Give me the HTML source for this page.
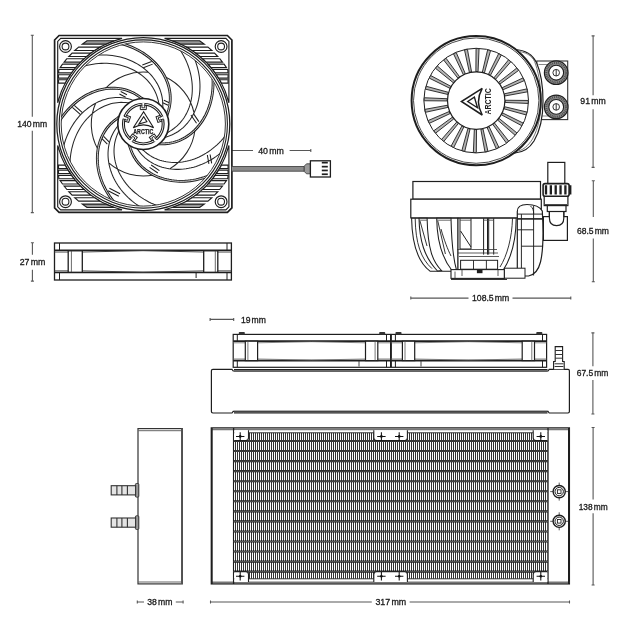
<!DOCTYPE html>
<html><head><meta charset="utf-8"><style>
html,body{margin:0;padding:0;background:#fff;width:624px;height:624px;overflow:hidden}
svg{display:block;filter:grayscale(1)}
</style></head><body>
<svg width="624" height="624" viewBox="0 0 624 624">
<g font-family="Liberation Sans, sans-serif" fill="#1a1a1a" stroke="#1a1a1a" stroke-width="0.3">
<text x="17.3" y="126.7" font-size="9" textLength="29.8" lengthAdjust="spacingAndGlyphs">140<tspan dx="1.2">mm</tspan></text>
<text x="19.7" y="264.9" font-size="9" textLength="25.6" lengthAdjust="spacingAndGlyphs">27<tspan dx="1.2">mm</tspan></text>
<text x="258.2" y="153.7" font-size="9" textLength="25.6" lengthAdjust="spacingAndGlyphs">40<tspan dx="1.2">mm</tspan></text>
<text x="580.3" y="104.4" font-size="9" textLength="25.4" lengthAdjust="spacingAndGlyphs">91<tspan dx="1.2">mm</tspan></text>
<text x="576.9" y="234" font-size="9" textLength="32.1" lengthAdjust="spacingAndGlyphs">68.5<tspan dx="1.2">mm</tspan></text>
<text x="472" y="301.2" font-size="9" textLength="37.3" lengthAdjust="spacingAndGlyphs">108.5<tspan dx="1.2">mm</tspan></text>
<text x="240.9" y="322.5" font-size="9" textLength="25" lengthAdjust="spacingAndGlyphs">19<tspan dx="1.2">mm</tspan></text>
<text x="576.7" y="376.4" font-size="9" textLength="31.7" lengthAdjust="spacingAndGlyphs">67.5<tspan dx="1.2">mm</tspan></text>
<text x="578.7" y="509.6" font-size="9" textLength="29" lengthAdjust="spacingAndGlyphs">138<tspan dx="1.2">mm</tspan></text>
<text x="147.3" y="604.8" font-size="9" textLength="25.2" lengthAdjust="spacingAndGlyphs">38<tspan dx="1.2">mm</tspan></text>
<text x="375.4" y="605.4" font-size="9" textLength="30.8" lengthAdjust="spacingAndGlyphs">317<tspan dx="1.2">mm</tspan></text>
</g>
<path d="M32.3,35.3V116.8M32.3,130.8V212.6M30.8,35.3h3M30.8,212.6h3" stroke="#575757" stroke-width="1.1" fill="none"/>
<path d="M32.4,242.7V254.7M32.4,269.7V281.1M30.9,242.7h3M30.9,281.1h3" stroke="#575757" stroke-width="1.1" fill="none"/>
<path d="M231.5,150.5H253M289.6,150.5H310.8M231.5,149v3M310.8,149v3" stroke="#575757" stroke-width="1.1" fill="none"/>
<path d="M593.1,35.9V95.2M593.1,109.2V167.4M591.6,35.9h3M591.6,167.4h3" stroke="#575757" stroke-width="1.1" fill="none"/>
<path d="M593.3,180.8V217M593.3,238.5V281.7M591.8,180.8h3M591.8,281.7h3" stroke="#575757" stroke-width="1.1" fill="none"/>
<path d="M410.8,298.1H468.5M512.5,298.1H570.8M410.8,296.6v3M570.8,296.6v3" stroke="#575757" stroke-width="1.1" fill="none"/>
<path d="M210.1,319.4H233.7M233.7,319.4H233.7M210.1,317.9v3M233.7,317.9v3" stroke="#575757" stroke-width="1.1" fill="none"/>
<path d="M592.9,332.9V366.2M592.9,380V414M591.4,332.9h3M591.4,414h3" stroke="#575757" stroke-width="1.1" fill="none"/>
<path d="M593.1,427.5V499.6M593.1,513.2V585M591.6,427.5h3M591.6,585h3" stroke="#575757" stroke-width="1.1" fill="none"/>
<path d="M137.3,602H144M175.8,602H183.1M137.3,600.5v3M183.1,600.5v3" stroke="#575757" stroke-width="1.1" fill="none"/>
<path d="M210.5,602H371.8M409.6,602H569.5M210.5,600.5v3M569.5,600.5v3" stroke="#575757" stroke-width="1.1" fill="none"/>
<path d="M59.1,35.5H227.4L231.9,40V207.8L227.4,212.3H59.1L54.6,207.8V40Z" fill="#fff" stroke="#1e1e1e" stroke-width="1.7"/>
<g><path d="M57.7,102.74V41.4L60.7,38.4H122.04A88.2,88.2 0 0 0 57.7,102.74Z" fill="#fff" stroke="#1e1e1e" stroke-width="1.15"/><path d="M87.07,40.7 L82.34,44.1 L105.95,44.1 L114.31,40.7Z" fill="#9a9a9a" stroke="#1e1e1e" stroke-width="1.15"/><path d="M78.6,47.1 L74.76,50.5 L94.55,50.5 L100.11,47.1Z" fill="#fff" stroke="#1e1e1e" stroke-width="1.15"/><path d="M72.07,53.1 L68.84,56.5 L86.53,56.5 L90.84,53.1Z" fill="#fff" stroke="#1e1e1e" stroke-width="1.15"/><path d="M66.91,58.7 L64.13,62.1 L80.47,62.1 L84.01,58.7Z" fill="#fff" stroke="#1e1e1e" stroke-width="1.15"/><path d="M62.53,64.2 L60.12,67.6 L75.49,67.6 L78.47,64.2Z" fill="#fff" stroke="#1e1e1e" stroke-width="1.15"/><path d="M58.86,69.5 L58.5,72.9 L71.41,72.9 L73.95,69.5Z" fill="#fff" stroke="#1e1e1e" stroke-width="1.15"/><path d="M58.5,74.7 L58.5,78.1 L67.98,78.1 L70.16,74.7Z" fill="#fff" stroke="#1e1e1e" stroke-width="1.15"/><path d="M58.5,79.7 L58.5,83.1 L65.16,83.1 L67.03,79.7Z" fill="#fff" stroke="#1e1e1e" stroke-width="1.15"/><circle cx="65.5" cy="46.5" r="5.9" fill="#fff" stroke="#1e1e1e" stroke-width="1.15"/><circle cx="65.5" cy="46.5" r="3.4" fill="none" stroke="#1e1e1e" stroke-width="1.05"/></g>
<g transform="translate(286.6,0) scale(-1,1)"><path d="M57.7,102.74V41.4L60.7,38.4H122.04A88.2,88.2 0 0 0 57.7,102.74Z" fill="#fff" stroke="#1e1e1e" stroke-width="1.15"/><path d="M87.07,40.7 L82.34,44.1 L105.95,44.1 L114.31,40.7Z" fill="#9a9a9a" stroke="#1e1e1e" stroke-width="1.15"/><path d="M78.6,47.1 L74.76,50.5 L94.55,50.5 L100.11,47.1Z" fill="#fff" stroke="#1e1e1e" stroke-width="1.15"/><path d="M72.07,53.1 L68.84,56.5 L86.53,56.5 L90.84,53.1Z" fill="#fff" stroke="#1e1e1e" stroke-width="1.15"/><path d="M66.91,58.7 L64.13,62.1 L80.47,62.1 L84.01,58.7Z" fill="#fff" stroke="#1e1e1e" stroke-width="1.15"/><path d="M62.53,64.2 L60.12,67.6 L75.49,67.6 L78.47,64.2Z" fill="#fff" stroke="#1e1e1e" stroke-width="1.15"/><path d="M58.86,69.5 L58.5,72.9 L71.41,72.9 L73.95,69.5Z" fill="#fff" stroke="#1e1e1e" stroke-width="1.15"/><path d="M58.5,74.7 L58.5,78.1 L67.98,78.1 L70.16,74.7Z" fill="#fff" stroke="#1e1e1e" stroke-width="1.15"/><path d="M58.5,79.7 L58.5,83.1 L65.16,83.1 L67.03,79.7Z" fill="#fff" stroke="#1e1e1e" stroke-width="1.15"/><circle cx="65.5" cy="46.5" r="5.9" fill="#fff" stroke="#1e1e1e" stroke-width="1.15"/><circle cx="65.5" cy="46.5" r="3.4" fill="none" stroke="#1e1e1e" stroke-width="1.05"/></g>
<g transform="translate(0,248.2) scale(1,-1)"><path d="M57.7,102.74V41.4L60.7,38.4H122.04A88.2,88.2 0 0 0 57.7,102.74Z" fill="#fff" stroke="#1e1e1e" stroke-width="1.15"/><path d="M87.07,40.7 L82.34,44.1 L105.95,44.1 L114.31,40.7Z" fill="#9a9a9a" stroke="#1e1e1e" stroke-width="1.15"/><path d="M78.6,47.1 L74.76,50.5 L94.55,50.5 L100.11,47.1Z" fill="#fff" stroke="#1e1e1e" stroke-width="1.15"/><path d="M72.07,53.1 L68.84,56.5 L86.53,56.5 L90.84,53.1Z" fill="#fff" stroke="#1e1e1e" stroke-width="1.15"/><path d="M66.91,58.7 L64.13,62.1 L80.47,62.1 L84.01,58.7Z" fill="#fff" stroke="#1e1e1e" stroke-width="1.15"/><path d="M62.53,64.2 L60.12,67.6 L75.49,67.6 L78.47,64.2Z" fill="#fff" stroke="#1e1e1e" stroke-width="1.15"/><path d="M58.86,69.5 L58.5,72.9 L71.41,72.9 L73.95,69.5Z" fill="#fff" stroke="#1e1e1e" stroke-width="1.15"/><path d="M58.5,74.7 L58.5,78.1 L67.98,78.1 L70.16,74.7Z" fill="#fff" stroke="#1e1e1e" stroke-width="1.15"/><path d="M58.5,79.7 L58.5,83.1 L65.16,83.1 L67.03,79.7Z" fill="#fff" stroke="#1e1e1e" stroke-width="1.15"/><circle cx="65.5" cy="46.5" r="5.9" fill="#fff" stroke="#1e1e1e" stroke-width="1.15"/><circle cx="65.5" cy="46.5" r="3.4" fill="none" stroke="#1e1e1e" stroke-width="1.05"/></g>
<g transform="translate(286.6,248.2) scale(-1,-1)"><path d="M57.7,102.74V41.4L60.7,38.4H122.04A88.2,88.2 0 0 0 57.7,102.74Z" fill="#fff" stroke="#1e1e1e" stroke-width="1.15"/><path d="M87.07,40.7 L82.34,44.1 L105.95,44.1 L114.31,40.7Z" fill="#9a9a9a" stroke="#1e1e1e" stroke-width="1.15"/><path d="M78.6,47.1 L74.76,50.5 L94.55,50.5 L100.11,47.1Z" fill="#fff" stroke="#1e1e1e" stroke-width="1.15"/><path d="M72.07,53.1 L68.84,56.5 L86.53,56.5 L90.84,53.1Z" fill="#fff" stroke="#1e1e1e" stroke-width="1.15"/><path d="M66.91,58.7 L64.13,62.1 L80.47,62.1 L84.01,58.7Z" fill="#fff" stroke="#1e1e1e" stroke-width="1.15"/><path d="M62.53,64.2 L60.12,67.6 L75.49,67.6 L78.47,64.2Z" fill="#fff" stroke="#1e1e1e" stroke-width="1.15"/><path d="M58.86,69.5 L58.5,72.9 L71.41,72.9 L73.95,69.5Z" fill="#fff" stroke="#1e1e1e" stroke-width="1.15"/><path d="M58.5,74.7 L58.5,78.1 L67.98,78.1 L70.16,74.7Z" fill="#fff" stroke="#1e1e1e" stroke-width="1.15"/><path d="M58.5,79.7 L58.5,83.1 L65.16,83.1 L67.03,79.7Z" fill="#fff" stroke="#1e1e1e" stroke-width="1.15"/><circle cx="65.5" cy="46.5" r="5.9" fill="#fff" stroke="#1e1e1e" stroke-width="1.15"/><circle cx="65.5" cy="46.5" r="3.4" fill="none" stroke="#1e1e1e" stroke-width="1.05"/></g>
<circle cx="143.3" cy="124.0" r="86.5" fill="none" stroke="#1e1e1e" stroke-width="1.25"/>
<circle cx="143.3" cy="124.0" r="84.1" fill="none" stroke="#1e1e1e" stroke-width="1.1"/>
<circle cx="143.3" cy="124.0" r="82.1" fill="none" stroke="#1e1e1e" stroke-width="0.9"/>
<defs><clipPath id="fanclip"><circle cx="143.3" cy="124.0" r="82.1"/></clipPath></defs>
<g clip-path="url(#fanclip)" fill="none">
<path d="M134.75,100.51 L132.33,99.9 L130.26,99.28 L128.22,98.73 L126.18,98.28 L124.12,97.92 L122.04,97.66 L119.93,97.51 L117.81,97.46 L115.67,97.52 L113.51,97.68 L111.35,97.95 L109.18,98.33 L107,98.82 L104.84,99.42 L102.67,100.12 L100.52,100.93 L98.39,101.85 L96.28,102.87 L94.19,104 L92.13,105.24 L90.11,106.57 L88.12,108.01 L86.18,109.54 L84.28,111.18 L82.43,112.91 L80.63,114.73 L78.89,116.65 L77.22,118.65 L75.6,120.74 L74.06,122.92 L72.58,125.18 L71.19,127.51 L69.86,129.93 L68.62,132.42 L67.47,134.98 L66.39,137.6 L65.41,140.29 L64.52,143.04 L63.72,145.85 L63.02,148.72 M130.05,102.8 L127.56,102.71 L125.4,102.53 L123.3,102.42 L121.2,102.4 L119.11,102.48 L117.02,102.66 L114.93,102.95 L112.85,103.34 L110.76,103.84 L108.69,104.45 L106.63,105.17 L104.59,105.99 L102.56,106.92 L100.56,107.95 L98.6,109.09 L96.66,110.33 L94.77,111.67 L92.91,113.11 L91.11,114.65 L89.35,116.28 L87.65,118.01 L86,119.83 L84.42,121.74 L82.9,123.73 L81.45,125.8 L80.07,127.96 L78.77,130.2 L77.55,132.51 L76.41,134.89 L75.35,137.34 L74.37,139.85 L73.49,142.43 L72.7,145.07 L72,147.76 L71.4,150.5 L70.9,153.29 L70.5,156.13 L70.2,159.01 L70,161.92 L69.91,164.87 M163,108.61 L162.83,106.12 L162.78,103.96 L162.67,101.85 L162.47,99.77 L162.18,97.7 L161.78,95.64 L161.27,93.59 L160.66,91.55 L159.95,89.54 L159.13,87.54 L158.2,85.56 L157.17,83.61 L156.03,81.7 L154.79,79.82 L153.46,77.98 L152.02,76.19 L150.49,74.44 L148.86,72.75 L147.14,71.11 L145.33,69.54 L143.44,68.03 L141.46,66.58 L139.4,65.2 L137.26,63.9 L135.04,62.68 L132.75,61.53 L130.39,60.47 L127.97,59.5 L125.48,58.61 L122.93,57.81 L120.33,57.11 L117.67,56.5 L114.97,55.99 L112.22,55.58 L109.43,55.27 L106.6,55.06 L103.74,54.96 L100.84,54.96 L97.92,55.07 L94.98,55.29 M159.37,104.85 L158.68,102.45 L158.19,100.35 L157.64,98.31 L157.02,96.31 L156.3,94.35 L155.48,92.42 L154.56,90.52 L153.54,88.65 L152.42,86.83 L151.2,85.04 L149.88,83.3 L148.47,81.61 L146.96,79.98 L145.36,78.4 L143.67,76.88 L141.89,75.42 L140.03,74.03 L138.09,72.71 L136.06,71.47 L133.97,70.31 L131.8,69.22 L129.56,68.22 L127.26,67.3 L124.89,66.47 L122.47,65.74 L119.99,65.09 L117.47,64.54 L114.89,64.09 L112.27,63.74 L109.62,63.49 L106.92,63.35 L104.2,63.3 L101.45,63.37 L98.67,63.54 L95.88,63.81 L93.07,64.2 L90.25,64.69 L87.42,65.3 L84.58,66.01 L81.75,66.83 M164.03,137.98 L166.34,137.05 L168.38,136.33 L170.35,135.58 L172.27,134.75 L174.15,133.82 L175.98,132.81 L177.78,131.7 L179.52,130.49 L181.22,129.18 L182.87,127.78 L184.46,126.29 L185.99,124.71 L187.46,123.04 L188.87,121.28 L190.2,119.44 L191.47,117.52 L192.65,115.52 L193.76,113.45 L194.78,111.31 L195.73,109.11 L196.58,106.84 L197.34,104.51 L198.01,102.12 L198.59,99.68 L199.07,97.2 L199.45,94.66 L199.73,92.09 L199.91,89.49 L199.98,86.85 L199.95,84.18 L199.82,81.48 L199.58,78.77 L199.23,76.04 L198.77,73.3 L198.2,70.55 L197.52,67.79 L196.74,65.04 L195.84,62.29 L194.84,59.54 L193.72,56.81 M166.48,133.37 L168.55,131.97 L170.4,130.85 L172.17,129.7 L173.87,128.49 L175.52,127.2 L177.1,125.82 L178.62,124.36 L180.08,122.81 L181.47,121.19 L182.79,119.47 L184.04,117.68 L185.21,115.82 L186.3,113.88 L187.31,111.87 L188.23,109.79 L189.07,107.65 L189.81,105.45 L190.46,103.19 L191.02,100.89 L191.48,98.53 L191.85,96.13 L192.11,93.7 L192.27,91.22 L192.32,88.72 L192.28,86.19 L192.12,83.63 L191.86,81.06 L191.49,78.47 L191.02,75.87 L190.44,73.27 L189.74,70.66 L188.94,68.06 L188.03,65.46 L187.01,62.87 L185.89,60.3 L184.65,57.75 L183.31,55.22 L181.86,52.71 L180.31,50.24 L178.65,47.8 M136.41,148.03 L138.01,149.94 L139.32,151.67 L140.65,153.31 L142.03,154.87 L143.49,156.37 L145.02,157.81 L146.63,159.17 L148.32,160.46 L150.09,161.67 L151.93,162.8 L153.84,163.85 L155.82,164.82 L157.86,165.71 L159.97,166.5 L162.13,167.2 L164.35,167.81 L166.61,168.32 L168.92,168.73 L171.28,169.04 L173.67,169.26 L176.09,169.37 L178.54,169.37 L181.02,169.27 L183.51,169.07 L186.03,168.75 L188.55,168.34 L191.08,167.81 L193.62,167.17 L196.15,166.43 L198.68,165.57 L201.2,164.61 L203.71,163.54 L206.2,162.37 L208.66,161.09 L211.1,159.7 L213.51,158.2 L215.89,156.6 L218.23,154.9 L220.53,153.1 L222.78,151.19 M141.56,148.94 L143.52,150.47 L145.16,151.89 L146.8,153.22 L148.48,154.46 L150.22,155.63 L152.01,156.71 L153.87,157.71 L155.79,158.61 L157.77,159.43 L159.81,160.16 L161.9,160.79 L164.03,161.33 L166.22,161.77 L168.44,162.1 L170.7,162.34 L172.99,162.47 L175.32,162.5 L177.66,162.43 L180.03,162.24 L182.41,161.95 L184.8,161.56 L187.2,161.05 L189.61,160.44 L192,159.72 L194.4,158.89 L196.78,157.96 L199.15,156.92 L201.49,155.77 L203.82,154.51 L206.12,153.15 L208.38,151.69 L210.61,150.12 L212.8,148.45 L214.94,146.69 L217.04,144.82 L219.09,142.86 L221.08,140.8 L223.02,138.65 L224.89,136.4 L226.69,134.07 M118.32,124.87 L116.99,126.98 L115.76,128.76 L114.61,130.53 L113.55,132.33 L112.57,134.18 L111.68,136.08 L110.88,138.04 L110.18,140.04 L109.57,142.1 L109.06,144.2 L108.65,146.34 L108.34,148.52 L108.14,150.74 L108.03,152.99 L108.03,155.26 L108.14,157.55 L108.36,159.87 L108.68,162.19 L109.11,164.53 L109.64,166.86 L110.29,169.2 L111.04,171.54 L111.9,173.86 L112.87,176.17 L113.94,178.46 L115.12,180.74 L116.4,182.98 L117.79,185.2 L119.28,187.38 L120.87,189.52 L122.57,191.62 L124.36,193.67 L126.25,195.67 L128.23,197.62 L130.3,199.51 L132.47,201.35 L134.73,203.11 L137.07,204.81 L139.49,206.44 L142,207.99 M119.04,130.05 L118.19,132.39 L117.35,134.39 L116.59,136.35 L115.93,138.34 L115.36,140.35 L114.88,142.39 L114.51,144.47 L114.24,146.58 L114.07,148.71 L114.01,150.87 L114.05,153.06 L114.21,155.25 L114.46,157.47 L114.83,159.68 L115.3,161.91 L115.89,164.13 L116.58,166.35 L117.37,168.56 L118.28,170.75 L119.29,172.93 L120.41,175.08 L121.63,177.21 L122.95,179.3 L124.38,181.36 L125.9,183.38 L127.53,185.36 L129.25,187.28 L131.07,189.16 L132.98,190.99 L134.99,192.75 L137.08,194.45 L139.26,196.09 L141.52,197.65 L143.86,199.15 L146.29,200.57 L148.79,201.91 L151.36,203.17 L154,204.34 L156.72,205.43 L159.49,206.42 M98.01,149.55A52.0,52.0 0 0 1 95.64,103.21 M105,88.82A52.0,52.0 0 0 1 148.35,72.25 M164.92,76.71A52.0,52.0 0 0 1 194.08,112.81 M194.96,129.95A52.0,52.0 0 0 1 169.64,168.84 M153.6,174.97A52.0,52.0 0 0 1 108.8,162.9" stroke="#262626" stroke-width="1.05"/>
<path d="M163.87,100.16L169.31,102.7 M162.69,102.7L168.13,105.24 M142.33,65.08L151.67,61.5 M143.33,67.7L152.67,64.12 M120.72,91.56L126.95,94.74 M119.45,94.06L125.68,97.24 M74.25,105.28L82.42,112.64 M72.38,107.36L80.55,114.72 M103.66,136.38L109.32,142.04 M101.68,138.36L107.34,144.02 M109.39,188.23L120.08,193.68 M108.12,190.72L118.81,196.17 M193.26,113.37L198.86,121.66 M190.94,114.94L196.54,123.23 M151.14,165.04L159.43,170.64 M149.57,167.36L157.86,172.96 M210.1,154.53L211.66,163.39 M207.34,155.01L208.9,163.87" stroke="#1e1e1e" stroke-width="1.05"/>
<path d="M142.86,99 L140.78,97.65 L139.02,96.38 L137.27,95.2 L135.49,94.1 L133.65,93.1 L131.77,92.17 L129.83,91.34 L127.84,90.61 L125.79,89.96 L123.7,89.42 L121.57,88.97 L119.39,88.62 L117.18,88.37 L114.93,88.23 L112.66,88.19 L110.37,88.26 L108.05,88.43 L105.72,88.72 L103.38,89.1 L101.03,89.6 L98.68,90.2 L96.33,90.91 L93.99,91.73 L91.67,92.66 L89.36,93.69 L87.06,94.83 L84.8,96.08 L82.56,97.43 L80.35,98.88 L78.18,100.43 L76.05,102.09 L73.97,103.84 L71.93,105.7 L69.95,107.65 L68.02,109.69 L66.16,111.82 L64.35,114.05 L62.61,116.36 L60.94,118.75 L59.35,121.23 M166.94,115.86 L167.58,113.46 L168.25,111.39 L168.83,109.36 L169.32,107.33 L169.71,105.28 L170,103.2 L170.2,101.1 L170.28,98.97 L170.26,96.83 L170.14,94.68 L169.9,92.51 L169.56,90.33 L169.11,88.15 L168.55,85.97 L167.89,83.8 L167.11,81.63 L166.23,79.48 L165.24,77.35 L164.15,75.25 L162.96,73.17 L161.66,71.12 L160.25,69.11 L158.75,67.14 L157.15,65.21 L155.45,63.33 L153.66,61.5 L151.78,59.73 L149.8,58.02 L147.74,56.37 L145.59,54.79 L143.36,53.28 L141.04,51.84 L138.65,50.47 L136.19,49.19 L133.65,47.99 L131.04,46.87 L128.37,45.84 L125.63,44.9 L122.84,44.05 L119.99,43.3 M158.35,143.97 L160.83,143.84 L163,143.83 L165.11,143.76 L167.19,143.59 L169.27,143.33 L171.34,142.97 L173.39,142.5 L175.44,141.93 L177.47,141.25 L179.48,140.46 L181.47,139.57 L183.44,138.57 L185.37,137.47 L187.27,136.26 L189.13,134.96 L190.95,133.55 L192.72,132.05 L194.44,130.46 L196.11,128.77 L197.72,126.99 L199.26,125.12 L200.74,123.16 L202.15,121.12 L203.49,119.01 L204.76,116.81 L205.94,114.54 L207.04,112.2 L208.06,109.8 L208.99,107.32 L209.83,104.79 L210.58,102.2 L211.24,99.56 L211.79,96.86 L212.25,94.12 L212.61,91.33 L212.87,88.51 L213.02,85.65 L213.07,82.76 L213.01,79.83 L212.85,76.89 M128.96,144.48 L129.85,146.8 L130.53,148.86 L131.25,150.84 L132.05,152.78 L132.94,154.67 L133.92,156.53 L135,158.34 L136.18,160.1 L137.46,161.83 L138.83,163.5 L140.29,165.12 L141.85,166.68 L143.49,168.17 L145.22,169.61 L147.04,170.98 L148.94,172.27 L150.91,173.49 L152.96,174.64 L155.09,175.7 L157.28,176.68 L159.53,177.57 L161.85,178.37 L164.22,179.09 L166.65,179.7 L169.13,180.23 L171.65,180.65 L174.22,180.98 L176.82,181.2 L179.46,181.32 L182.13,181.34 L184.82,181.25 L187.54,181.06 L190.28,180.75 L193.03,180.34 L195.79,179.83 L198.55,179.2 L201.32,178.46 L204.09,177.61 L206.85,176.65 L209.59,175.58 M119.39,116.69 L117.46,118.26 L115.71,119.54 L114.05,120.84 L112.45,122.19 L110.93,123.62 L109.47,125.13 L108.08,126.72 L106.76,128.39 L105.52,130.13 L104.35,131.95 L103.27,133.84 L102.26,135.81 L101.35,137.83 L100.52,139.92 L99.78,142.07 L99.13,144.28 L98.58,146.54 L98.13,148.84 L97.77,151.19 L97.52,153.57 L97.37,155.99 L97.32,158.44 L97.38,160.92 L97.54,163.42 L97.81,165.94 L98.18,168.47 L98.67,171.01 L99.26,173.56 L99.96,176.1 L100.77,178.65 L101.68,181.18 L102.71,183.71 L103.84,186.22 L105.08,188.71 L106.43,191.17 L107.88,193.61 L109.44,196.01 L111.1,198.38 L112.86,200.71 L114.73,202.99" stroke="#1e1e1e" stroke-width="2.8"/>
<path d="M142.86,99 L140.78,97.65 L139.02,96.38 L137.27,95.2 L135.49,94.1 L133.65,93.1 L131.77,92.17 L129.83,91.34 L127.84,90.61 L125.79,89.96 L123.7,89.42 L121.57,88.97 L119.39,88.62 L117.18,88.37 L114.93,88.23 L112.66,88.19 L110.37,88.26 L108.05,88.43 L105.72,88.72 L103.38,89.1 L101.03,89.6 L98.68,90.2 L96.33,90.91 L93.99,91.73 L91.67,92.66 L89.36,93.69 L87.06,94.83 L84.8,96.08 L82.56,97.43 L80.35,98.88 L78.18,100.43 L76.05,102.09 L73.97,103.84 L71.93,105.7 L69.95,107.65 L68.02,109.69 L66.16,111.82 L64.35,114.05 L62.61,116.36 L60.94,118.75 L59.35,121.23 M166.94,115.86 L167.58,113.46 L168.25,111.39 L168.83,109.36 L169.32,107.33 L169.71,105.28 L170,103.2 L170.2,101.1 L170.28,98.97 L170.26,96.83 L170.14,94.68 L169.9,92.51 L169.56,90.33 L169.11,88.15 L168.55,85.97 L167.89,83.8 L167.11,81.63 L166.23,79.48 L165.24,77.35 L164.15,75.25 L162.96,73.17 L161.66,71.12 L160.25,69.11 L158.75,67.14 L157.15,65.21 L155.45,63.33 L153.66,61.5 L151.78,59.73 L149.8,58.02 L147.74,56.37 L145.59,54.79 L143.36,53.28 L141.04,51.84 L138.65,50.47 L136.19,49.19 L133.65,47.99 L131.04,46.87 L128.37,45.84 L125.63,44.9 L122.84,44.05 L119.99,43.3 M158.35,143.97 L160.83,143.84 L163,143.83 L165.11,143.76 L167.19,143.59 L169.27,143.33 L171.34,142.97 L173.39,142.5 L175.44,141.93 L177.47,141.25 L179.48,140.46 L181.47,139.57 L183.44,138.57 L185.37,137.47 L187.27,136.26 L189.13,134.96 L190.95,133.55 L192.72,132.05 L194.44,130.46 L196.11,128.77 L197.72,126.99 L199.26,125.12 L200.74,123.16 L202.15,121.12 L203.49,119.01 L204.76,116.81 L205.94,114.54 L207.04,112.2 L208.06,109.8 L208.99,107.32 L209.83,104.79 L210.58,102.2 L211.24,99.56 L211.79,96.86 L212.25,94.12 L212.61,91.33 L212.87,88.51 L213.02,85.65 L213.07,82.76 L213.01,79.83 L212.85,76.89 M128.96,144.48 L129.85,146.8 L130.53,148.86 L131.25,150.84 L132.05,152.78 L132.94,154.67 L133.92,156.53 L135,158.34 L136.18,160.1 L137.46,161.83 L138.83,163.5 L140.29,165.12 L141.85,166.68 L143.49,168.17 L145.22,169.61 L147.04,170.98 L148.94,172.27 L150.91,173.49 L152.96,174.64 L155.09,175.7 L157.28,176.68 L159.53,177.57 L161.85,178.37 L164.22,179.09 L166.65,179.7 L169.13,180.23 L171.65,180.65 L174.22,180.98 L176.82,181.2 L179.46,181.32 L182.13,181.34 L184.82,181.25 L187.54,181.06 L190.28,180.75 L193.03,180.34 L195.79,179.83 L198.55,179.2 L201.32,178.46 L204.09,177.61 L206.85,176.65 L209.59,175.58 M119.39,116.69 L117.46,118.26 L115.71,119.54 L114.05,120.84 L112.45,122.19 L110.93,123.62 L109.47,125.13 L108.08,126.72 L106.76,128.39 L105.52,130.13 L104.35,131.95 L103.27,133.84 L102.26,135.81 L101.35,137.83 L100.52,139.92 L99.78,142.07 L99.13,144.28 L98.58,146.54 L98.13,148.84 L97.77,151.19 L97.52,153.57 L97.37,155.99 L97.32,158.44 L97.38,160.92 L97.54,163.42 L97.81,165.94 L98.18,168.47 L98.67,171.01 L99.26,173.56 L99.96,176.1 L100.77,178.65 L101.68,181.18 L102.71,183.71 L103.84,186.22 L105.08,188.71 L106.43,191.17 L107.88,193.61 L109.44,196.01 L111.1,198.38 L112.86,200.71 L114.73,202.99" stroke="#fff" stroke-width="0.8"/>
</g>
<circle cx="143.3" cy="124.0" r="25.5" fill="#fff" stroke="#1e1e1e" stroke-width="1.6"/>
<circle cx="143.3" cy="124.0" r="20.8" fill="none" stroke="#1e1e1e" stroke-width="1.15"/>
<circle cx="143.3" cy="124.0" r="18.9" fill="none" stroke="#1e1e1e" stroke-width="1.05"/>
<g transform="translate(143.3,124.0) rotate(0)"><rect x="-1.6" y="-21.5" width="3.2" height="3.2" fill="#fff"/><path d="M-3,-18.9V-14.4H3V-18.9" fill="none" stroke="#1e1e1e" stroke-width="1"/><path d="M-1.4,-20.8V-16.2H1.4V-20.8" fill="none" stroke="#1e1e1e" stroke-width="0.9"/></g>
<g transform="translate(143.3,124.0) rotate(72)"><rect x="-1.6" y="-21.5" width="3.2" height="3.2" fill="#fff"/><path d="M-3,-18.9V-14.4H3V-18.9" fill="none" stroke="#1e1e1e" stroke-width="1"/><path d="M-1.4,-20.8V-16.2H1.4V-20.8" fill="none" stroke="#1e1e1e" stroke-width="0.9"/></g>
<g transform="translate(143.3,124.0) rotate(144)"><rect x="-1.6" y="-21.5" width="3.2" height="3.2" fill="#fff"/><path d="M-3,-18.9V-14.4H3V-18.9" fill="none" stroke="#1e1e1e" stroke-width="1"/><path d="M-1.4,-20.8V-16.2H1.4V-20.8" fill="none" stroke="#1e1e1e" stroke-width="0.9"/></g>
<g transform="translate(143.3,124.0) rotate(216)"><rect x="-1.6" y="-21.5" width="3.2" height="3.2" fill="#fff"/><path d="M-3,-18.9V-14.4H3V-18.9" fill="none" stroke="#1e1e1e" stroke-width="1"/><path d="M-1.4,-20.8V-16.2H1.4V-20.8" fill="none" stroke="#1e1e1e" stroke-width="0.9"/></g>
<g transform="translate(143.3,124.0) rotate(288)"><rect x="-1.6" y="-21.5" width="3.2" height="3.2" fill="#fff"/><path d="M-3,-18.9V-14.4H3V-18.9" fill="none" stroke="#1e1e1e" stroke-width="1"/><path d="M-1.4,-20.8V-16.2H1.4V-20.8" fill="none" stroke="#1e1e1e" stroke-width="0.9"/></g>
<g transform="translate(143.6,111.8) rotate(0) scale(1.0)" fill="none" stroke="#1e1e1e"><path d="M-10.3,15.9 L0,0 L10,15.9 Q0,10.2 -10.3,15.9Z" stroke-width="1.15" stroke-linejoin="miter"/><path d="M0,4.8 L3.3,9.9 L-4.8,12.3Z" stroke-width="1.05"/></g>
<text x="133.3" y="133.6" font-family="Liberation Sans, sans-serif" font-weight="bold" font-size="6.3" textLength="19.9" lengthAdjust="spacingAndGlyphs" fill="#1e1e1e" stroke="#1e1e1e" stroke-width="0.25">ARCTIC</text>
<rect x="231.5" y="166.4" width="72.8" height="4.8" fill="#8a8a8a" stroke="#3a3a3a" stroke-width="0.8"/>
<path d="M304.2,166.2 L306.5,163.8 H310.5 V173.8 H306.5 L304.2,171.4Z" fill="#9a9a9a" stroke="#333" stroke-width="0.8"/>
<rect x="310.4" y="160.8" width="20" height="16.2" fill="#fff" stroke="#1e1e1e" stroke-width="1.3"/>
<rect x="321.8" y="161.79999999999998" width="6" height="1.7" fill="#1e1e1e"/>
<rect x="321.8" y="165.79999999999998" width="6" height="1.7" fill="#1e1e1e"/>
<rect x="321.8" y="169.6" width="6" height="1.7" fill="#1e1e1e"/>
<rect x="321.8" y="173.39999999999998" width="6" height="1.7" fill="#1e1e1e"/>
<rect x="54.5" y="243.0" width="176.9" height="37" fill="#fff" stroke="#1e1e1e" stroke-width="1.3"/>
<path d="M54.5,250.3H231.4M54.5,272.6H231.4" stroke="#1e1e1e" stroke-width="1.5" fill="none"/>
<path d="M54.5,252H82.3M203.7,252H231.4M54.5,270.9H82.3M203.7,270.9H231.4M82.3,252Q143,249.4 203.7,252M82.3,270.9Q143,273.4 203.7,270.9" stroke="#444" stroke-width="1" fill="none"/>
<path d="M59.5,243.0V250.3M59.5,272.6V280.0M227,243.0V250.3M227,272.6V280.0M196.1,272.6V278" stroke="#1e1e1e" stroke-width="1" fill="none"/>
<rect x="68.2" y="250.8" width="14.1" height="21.5" fill="#fff" stroke="#1e1e1e" stroke-width="1.3"/>
<path d="M71.4,251V272" stroke="#444" stroke-width="0.8"/>
<rect x="203.7" y="250.8" width="14.1" height="21.5" fill="#fff" stroke="#1e1e1e" stroke-width="1.3"/>
<path d="M215.3,251V272" stroke="#444" stroke-width="0.8"/>
<rect x="536.8" y="61" width="30.9" height="58.6" fill="#fff" stroke="#333" stroke-width="1.1"/>
<path d="M538.5,64.5H563M538.5,116H563" stroke="#555" stroke-width="0.7" fill="none"/>
<path d="M515,49.5 C524,50 532,53.5 536.5,62.5 C541.5,74 543,88 543,101 C543,116 540.5,130 534,141 C529,149 523,152.5 515,153 Z" fill="#fff" stroke="#1e1e1e" stroke-width="1.2"/>
<path d="M520,51.6 C528,53 533.5,57 535.5,64 C539.5,76 541,89 541,101 C541,115 538.5,128 532.5,139 C528,146 523.5,149.5 519,150.8" fill="none" stroke="#555" stroke-width="0.8"/>
<circle cx="556.2" cy="72.7" r="11.8" fill="#8a8a8a" stroke="#1e1e1e" stroke-width="1.2"/>
<circle cx="556.2" cy="72.7" r="9.8" fill="none" stroke="#4a4a4a" stroke-width="2" stroke-dasharray="0.9 1"/>
<circle cx="556.2" cy="72.7" r="7.4" fill="#fff" stroke="#1e1e1e" stroke-width="1.1"/>
<circle cx="556.2" cy="72.7" r="3.3" fill="#fff" stroke="#1e1e1e" stroke-width="0.9"/>
<path d="M556.2,69.4V76" stroke="#1e1e1e" stroke-width="0.9"/>
<circle cx="556.2" cy="106.9" r="11.8" fill="#8a8a8a" stroke="#1e1e1e" stroke-width="1.2"/>
<circle cx="556.2" cy="106.9" r="9.8" fill="none" stroke="#4a4a4a" stroke-width="2" stroke-dasharray="0.9 1"/>
<circle cx="556.2" cy="106.9" r="7.4" fill="#fff" stroke="#1e1e1e" stroke-width="1.1"/>
<circle cx="556.2" cy="106.9" r="3.3" fill="#fff" stroke="#1e1e1e" stroke-width="0.9"/>
<path d="M556.2,103.6V110.2" stroke="#1e1e1e" stroke-width="0.9"/>
<circle cx="476.2" cy="100.6" r="64.6" fill="#fff" stroke="#1e1e1e" stroke-width="2"/>
<circle cx="476.2" cy="100.6" r="62.7" fill="none" stroke="#333" stroke-width="0.9"/>
<circle cx="476.2" cy="100.6" r="52.3" fill="none" stroke="#1e1e1e" stroke-width="1"/>
<path d="M478.06,71.64 L479.06,48.66 L476.06,48.58 L475.86,71.58Z M484.46,72.78 L490.55,50.6 L487.64,49.85 L482.33,72.23Z M490.44,75.31 L501.31,55.04 L498.65,53.67 L488.48,74.31Z M495.71,79.12 L510.82,61.77 L508.53,59.84 L494.03,77.7Z M500,84 L518.59,70.45 L516.79,68.06 L498.68,82.24Z M503.1,89.71 L524.24,80.64 L523.01,77.9 L502.2,87.7Z M504.85,95.97 L527.48,91.83 L526.89,88.89 L504.42,93.81Z M505.16,102.46 L528.14,103.46 L528.22,100.46 L505.22,100.26Z M504.02,108.86 L526.2,114.95 L526.95,112.04 L504.57,106.73Z M501.49,114.84 L521.76,125.71 L523.13,123.05 L502.49,112.88Z M497.68,120.11 L515.03,135.22 L516.96,132.93 L499.1,118.43Z M492.8,124.4 L506.35,142.99 L508.74,141.19 L494.56,123.08Z M487.09,127.5 L496.16,148.64 L498.9,147.41 L489.1,126.6Z M480.83,129.25 L484.97,151.88 L487.91,151.29 L482.99,128.82Z M474.34,129.56 L473.34,152.54 L476.34,152.62 L476.54,129.62Z M467.94,128.42 L461.85,150.6 L464.76,151.35 L470.07,128.97Z M461.96,125.89 L451.09,146.16 L453.75,147.53 L463.92,126.89Z M456.69,122.08 L441.58,139.43 L443.87,141.36 L458.37,123.5Z M452.4,117.2 L433.81,130.75 L435.61,133.14 L453.72,118.96Z M449.3,111.49 L428.16,120.56 L429.39,123.3 L450.2,113.5Z M447.55,105.23 L424.92,109.37 L425.51,112.31 L447.98,107.39Z M447.24,98.74 L424.26,97.74 L424.18,100.74 L447.18,100.94Z M448.38,92.34 L426.2,86.25 L425.45,89.16 L447.83,94.47Z M450.91,86.36 L430.64,75.49 L429.27,78.15 L449.91,88.32Z M454.72,81.09 L437.37,65.98 L435.44,68.27 L453.3,82.77Z M459.6,76.8 L446.05,58.21 L443.66,60.01 L457.84,78.12Z M465.31,73.7 L456.24,52.56 L453.5,53.79 L463.3,74.6Z M471.57,71.95 L467.43,49.32 L464.49,49.91 L469.41,72.38Z" fill="#b4b4b4" stroke="#2a2a2a" stroke-width="0.95"/>
<circle cx="476.2" cy="100.6" r="28.7" fill="#fff" stroke="#1e1e1e" stroke-width="1.2"/>
<g transform="translate(461.4,101.5) rotate(-90) scale(1.31)" fill="none" stroke="#1e1e1e"><path d="M-10.3,15.9 L0,0 L10,15.9 Q0,10.2 -10.3,15.9Z" stroke-width="1.15" stroke-linejoin="miter"/><path d="M0,4.8 L3.3,9.9 L-4.8,12.3Z" stroke-width="1.05"/></g>
<text transform="translate(491.2,114.6) rotate(-90)" font-family="Liberation Sans, sans-serif" font-weight="bold" font-size="8.4" textLength="26.3" lengthAdjust="spacingAndGlyphs" fill="#1e1e1e">ARCTIC</text>
<rect x="547.8" y="162.4" width="17" height="21.6" fill="#fff" stroke="#1e1e1e" stroke-width="1.2"/>
<path d="M549.4,206V218 Q549.4,225.6 556.6,225.6 Q563.8,225.6 563.8,218V206" fill="#fff" stroke="#1e1e1e" stroke-width="1.2"/>
<rect x="543.4" y="216.6" width="24" height="23.8" fill="#fff" stroke="#1e1e1e" stroke-width="1.2"/>
<path d="M549.9,209V218 Q549.9,225 556.6,225 Q563.3,225 563.3,218V209Z" fill="#fff" stroke="none"/>
<path d="M549.4,206V218 Q549.4,225.6 556.6,225.6 Q563.8,225.6 563.8,218V206" fill="none" stroke="#1e1e1e" stroke-width="1.2"/>
<rect x="547.3" y="205" width="18.7" height="6.5" fill="#fff" stroke="#1e1e1e" stroke-width="1.2"/>
<rect x="544.2" y="196.2" width="23.7" height="9.4" fill="#fff" stroke="#1e1e1e" stroke-width="1.2"/>
<path d="M545,205H567" stroke="#1e1e1e" stroke-width="1.6"/>
<rect x="543.1" y="183.6" width="26" height="12.7" rx="2" fill="#fff" stroke="#1e1e1e" stroke-width="1.6"/>
<path d="M546,185.2V194.6M550.85,185.2V194.6M555.7,185.2V194.6M560.55,185.2V194.6M565.4,185.2V194.6M570.25,185.2V194.6" stroke="#1e1e1e" stroke-width="2.3"/>
<rect x="412.9" y="181.5" width="127.6" height="17.7" fill="#fff" stroke="#1e1e1e" stroke-width="1.2"/>
<rect x="410.8" y="199.2" width="130.5" height="18.7" fill="#fff" stroke="#1e1e1e" stroke-width="1.2"/>
<path d="M517.3,272 V211.5 C517.3,206.5 521,204.5 527,204.5 C534,204.5 540,207 542.3,211 C543.4,230 543.4,250 540.5,262 C538.5,270 534,275 528.5,276 L520,276 Q517.3,275.5 517.3,272Z" fill="#fff" stroke="#1e1e1e" stroke-width="1.2"/>
<path d="M517.3,214.1H542.6M517.3,229.8H533.6M521.4,246.2H543M521.4,214.1V268M533.6,206V275.5" stroke="#1e1e1e" stroke-width="0.95" fill="none"/>
<path d="M517.3,218.9H542.9" stroke="#1e1e1e" stroke-width="1.6" fill="none"/>
<path d="M530.5,206 C533,208 533.8,211 533.6,214" stroke="#1e1e1e" stroke-width="0.9" fill="none"/>
<path d="M411.6,218.3 C412,245 418,262 430,271.2 H458 V218.3Z" fill="#fff" stroke="#1e1e1e" stroke-width="1.05"/>
<path d="M415.2,218.3 C415.5,243 421,259 432,268.6" fill="none" stroke="#1e1e1e" stroke-width="0.9"/>
<path d="M419,218.3 C419.5,240 424,257 437.5,271 L441.5,270.5 C433,262 427.8,250 427.1,218.3Z" fill="#fff" stroke="#1e1e1e" stroke-width="1.05"/>
<path d="M436.7,218.3 C437,240 442,258 452,270.5 L456.5,270 C453,258 451.5,240 451,218.3Z" fill="#fff" stroke="#1e1e1e" stroke-width="1.05"/>
<path d="M420,221 L427,246M437.8,221 L445.4,254M441,229 C444,240 448,250 451,256" fill="none" stroke="#1e1e1e" stroke-width="0.9"/>
<path d="M503.3,270 C511,258 516,240 516.2,218.3 H458 V270Z" fill="#fff" stroke="#1e1e1e" stroke-width="1.05"/>
<path d="M500,267 C507,256 512,238 512.5,218.3" fill="none" stroke="#1e1e1e" stroke-width="0.9"/>
<path d="M460,218.3V249H471V218.3M460.6,231 L471,247M483.6,218.3V254.6M488.7,218.3V254.6M487.5,218.3V254.6M493.7,218.3V254.6" fill="none" stroke="#1e1e1e" stroke-width="1"/>
<path d="M457,249.5H497M458,253H498M459,256.5H499" fill="none" stroke="#333" stroke-width="0.8"/>
<path d="M419,220.2H427M437,220.2H451M460,220.2H471M483.6,220.2H493.7" stroke="#444" stroke-width="0.8"/>
<rect x="460.6" y="260.3" width="37" height="8.9" fill="#fff" stroke="#1e1e1e" stroke-width="1"/>
<path d="M473.5,260.3V269.2M486.4,260.3V269.2" stroke="#1e1e1e" stroke-width="0.9"/>
<rect x="451" y="269.6" width="53.4" height="8.8" fill="#fff" stroke="#1e1e1e" stroke-width="1.1"/>
<rect x="504.4" y="268.2" width="20.6" height="10" fill="#fff" stroke="#1e1e1e" stroke-width="1"/>
<path d="M451,279.4H507" stroke="#1e1e1e" stroke-width="1"/>
<path d="M455,271.5V278.4M462,269.6V276M498,269.6V276" stroke="#333" stroke-width="0.8"/>
<rect x="476.9" y="270" width="5.6" height="3.2" fill="#1e1e1e"/>
<rect x="233.2" y="334.4" width="157.4" height="32.9" fill="#fff" stroke="#1e1e1e" stroke-width="1.2"/>
<rect x="238.8" y="331.9" width="6" height="2.8" rx="0.8" fill="#333"/>
<rect x="379.2" y="331.9" width="6" height="2.8" rx="0.8" fill="#333"/>
<path d="M233.2,341.2H390.6M233.2,360.6H390.6" stroke="#1e1e1e" stroke-width="1.7" fill="none"/>
<path d="M233.2,342.8H257.6M365.5,342.8H390.6M233.2,359H257.6M365.5,359H390.6M257.6,342.8Q311.55,340.6 365.5,342.8M257.6,359Q311.55,361.2 365.5,359" stroke="#666" stroke-width="0.8" fill="none"/>
<path d="M237.3,334.4V341.2M237.3,360.6V367.3M386.5,334.4V341.2M386.5,360.6V367.3" stroke="#1e1e1e" stroke-width="1" fill="none"/>
<path d="M359,361V366.5" stroke="#333" stroke-width="0.9"/>
<rect x="245.3" y="341.2" width="12.3" height="19.4" fill="#fff" stroke="#1e1e1e" stroke-width="1.2"/>
<path d="M247.9,341.5V360.3" stroke="#555" stroke-width="0.8"/>
<rect x="365.5" y="341.2" width="12.3" height="19.4" fill="#fff" stroke="#1e1e1e" stroke-width="1.2"/>
<path d="M375.1,341.5V360.3" stroke="#555" stroke-width="0.8"/>
<rect x="391.3" y="334.4" width="155.3" height="32.9" fill="#fff" stroke="#1e1e1e" stroke-width="1.2"/>
<rect x="395.5" y="331.9" width="6" height="2.8" rx="0.8" fill="#333"/>
<rect x="536.3" y="331.9" width="6" height="2.8" rx="0.8" fill="#333"/>
<path d="M391.3,341.2H546.6M391.3,360.6H546.6" stroke="#1e1e1e" stroke-width="1.7" fill="none"/>
<path d="M391.3,342.8H414.7M522.2,342.8H546.6M391.3,359H414.7M522.2,359H546.6M414.7,342.8Q468.45,340.6 522.2,342.8M414.7,359Q468.45,361.2 522.2,359" stroke="#666" stroke-width="0.8" fill="none"/>
<path d="M395.4,334.4V341.2M395.4,360.6V367.3M542.5,334.4V341.2M542.5,360.6V367.3" stroke="#1e1e1e" stroke-width="1" fill="none"/>
<path d="M421,361V366.5" stroke="#333" stroke-width="0.9"/>
<rect x="402.4" y="341.2" width="12.3" height="19.4" fill="#fff" stroke="#1e1e1e" stroke-width="1.2"/>
<path d="M405,341.5V360.3" stroke="#555" stroke-width="0.8"/>
<rect x="522.2" y="341.2" width="12.3" height="19.4" fill="#fff" stroke="#1e1e1e" stroke-width="1.2"/>
<path d="M531.8,341.5V360.3" stroke="#555" stroke-width="0.8"/>
<path d="M212.9,369.4H232L233.2,371H548L549.2,369.4H568Q569.4,369.4 569.4,370.8V411.6Q569.4,413 568,413H549.2L548,411.4H233.2L232,413H212.9Q211.4,413 211.4,411.6V370.8Q211.4,369.4 212.9,369.4Z" fill="#fff" stroke="#1e1e1e" stroke-width="1.2"/>
<path d="M234,369.6H547.5M234,412.9H547.5" stroke="#1e1e1e" stroke-width="1.2"/>
<path d="M234,371.3H547.5M234,411.3H547.5" stroke="#555" stroke-width="0.9"/>
<path d="M553.6,369.2V361.5H555.2V346.6H562.6V361.5H564.2V369.2" fill="#fff" stroke="#1e1e1e" stroke-width="1.1"/>
<path d="M555.2,350.5H562.6M555.2,354.5H562.6M555.2,358.2H562.6M554.6,363.8H563.4M554.6,366.5H563.4" stroke="#333" stroke-width="1"/>
<rect x="211.3" y="427.9" width="358.1" height="156" fill="#fff" stroke="#1e1e1e" stroke-width="1.3"/>
<path d="M211.3,429.5H569.4" stroke="#777" stroke-width="1.6"/>
<path d="M211.3,582.3H569.4" stroke="#777" stroke-width="1.6"/>
<path d="M233.6,427.9V583.9M548.0,427.9V583.9" stroke="#1e1e1e" stroke-width="1.3"/>
<path d="M211.9,427.9V583.9M568.8,427.9V583.9" stroke="#1e1e1e" stroke-width="1.6"/>
<defs><pattern id="fins" x="0" y="0" width="2" height="20" patternUnits="userSpaceOnUse"><rect x="0" y="0" width="2" height="20" fill="#ffffff"/><rect x="1" y="0" width="1" height="20" fill="#333333"/></pattern></defs>
<rect x="234.2" y="432.8" width="313.2" height="146" fill="url(#fins)"/>
<path d="M233.6,441H548.0M233.6,451.05H548.0M233.6,461.1H548.0M233.6,471.15H548.0M233.6,481.2H548.0M233.6,491.25H548.0M233.6,501.3H548.0M233.6,511.35H548.0M233.6,521.4H548.0M233.6,531.45H548.0M233.6,541.5H548.0M233.6,551.55H548.0M233.6,561.6H548.0M233.6,571.65H548.0" stroke="#1e1e1e" stroke-width="2.1"/>
<path d="M233.6,441H548.0M233.6,451.05H548.0M233.6,461.1H548.0M233.6,471.15H548.0M233.6,481.2H548.0M233.6,491.25H548.0M233.6,501.3H548.0M233.6,511.35H548.0M233.6,521.4H548.0M233.6,531.45H548.0M233.6,541.5H548.0M233.6,551.55H548.0M233.6,561.6H548.0M233.6,571.65H548.0" stroke="#909090" stroke-width="0.5"/>
<path d="M233.6,432.8H548.0M233.6,578.8H548.0" stroke="#333" stroke-width="1"/>
<path d="M234.3,430.2V440.6H245.7Q248.5,440.6 248.5,437.8V430.2Z M373.8,430.2V437.8Q373.8,440.6 376.6,440.6H404.6Q407.4,440.6 407.4,437.8V430.2Z M533.2,430.2V437.8Q533.2,440.6 536,440.6H547.3V430.2Z M234.3,582V571.6H245.7Q248.5,571.6 248.5,574.4V582Z M373.8,582V574.4Q373.8,571.6 376.6,571.6H404.6Q407.4,571.6 407.4,574.4V582Z M533.2,582V574.4Q533.2,571.6 536,571.6H547.3V582Z" fill="#fff" stroke="none"/>
<path d="M234.3,440.6H245.7Q248.5,440.6 248.5,437.8V430.2 M373.8,430.2V437.8Q373.8,440.6 376.6,440.6H404.6Q407.4,440.6 407.4,437.8V430.2 M533.2,430.2V437.8Q533.2,440.6 536,440.6H547.3 M234.3,571.6H245.7Q248.5,571.6 248.5,574.4V582 M373.8,582V574.4Q373.8,571.6 376.6,571.6H404.6Q407.4,571.6 407.4,574.4V582 M533.2,582V574.4Q533.2,571.6 536,571.6H547.3" fill="none" stroke="#222" stroke-width="1.1"/>
<path d="M236,436.4H244.4M240.2,432.2V440.6 M236,576.2H244.4M240.2,572V580.4 M377.2,436.4H385.6M381.4,432.2V440.6 M377.2,576.2H385.6M381.4,572V580.4 M395,436.4H403.4M399.2,432.2V440.6 M395,576.2H403.4M399.2,572V580.4 M536.6,436.4H545M540.8,432.2V440.6 M536.6,576.2H545M540.8,572V580.4" stroke="#111" stroke-width="1.05"/>
<circle cx="240.2" cy="436.4" r="1.3" fill="#111"/>
<circle cx="381.4" cy="436.4" r="1.3" fill="#111"/>
<circle cx="399.2" cy="436.4" r="1.3" fill="#111"/>
<circle cx="540.8" cy="436.4" r="1.3" fill="#111"/>
<circle cx="240.2" cy="576.2" r="1.3" fill="#111"/>
<circle cx="381.4" cy="576.2" r="1.3" fill="#111"/>
<circle cx="399.2" cy="576.2" r="1.3" fill="#111"/>
<circle cx="540.8" cy="576.2" r="1.3" fill="#111"/>
<path d="M550.2,491.6H568.2M559.2,482.6V500.6" stroke="#333" stroke-width="0.8"/>
<circle cx="559.2" cy="491.6" r="6.1" fill="#fff" stroke="#1e1e1e" stroke-width="1.4"/>
<circle cx="559.2" cy="491.6" r="4.2" fill="#fff" stroke="#1e1e1e" stroke-width="1"/>
<rect x="557.4" y="489.8" width="3.6" height="3.6" fill="#fff" stroke="#1e1e1e" stroke-width="0.9"/>
<path d="M550.2,521.3H568.2M559.2,512.3V530.3" stroke="#333" stroke-width="0.8"/>
<circle cx="559.2" cy="521.3" r="6.1" fill="#fff" stroke="#1e1e1e" stroke-width="1.4"/>
<circle cx="559.2" cy="521.3" r="4.2" fill="#fff" stroke="#1e1e1e" stroke-width="1"/>
<rect x="557.4" y="519.5" width="3.6" height="3.6" fill="#fff" stroke="#1e1e1e" stroke-width="0.9"/>
<rect x="138.0" y="428.59999999999997" width="44.3" height="155.3" fill="#fff" stroke="#333" stroke-width="1.2"/>
<path d="M138.0,430.7H182.3M138.0,582H182.3" stroke="#666" stroke-width="1"/>
<path d="M181.9,428.59999999999997V583.9" stroke="#555" stroke-width="1.8"/>
<rect x="135.4" y="483.5" width="3.4" height="13.6" rx="1" fill="#9a9a9a" stroke="#333" stroke-width="1"/>
<rect x="111.2" y="485.7" width="24.4" height="9.2" fill="#e4e4e4" stroke="#333" stroke-width="1.1"/>
<path d="M116.9,485.7V494.9M121.9,485.7V494.9M127.4,485.7V494.9" stroke="#333" stroke-width="1.1"/>
<rect x="135.4" y="515.8" width="3.4" height="13.6" rx="1" fill="#9a9a9a" stroke="#333" stroke-width="1"/>
<rect x="111.2" y="518" width="24.4" height="9.2" fill="#e4e4e4" stroke="#333" stroke-width="1.1"/>
<path d="M116.9,518V527.2M121.9,518V527.2M127.4,518V527.2" stroke="#333" stroke-width="1.1"/>
</svg>
</body></html>
